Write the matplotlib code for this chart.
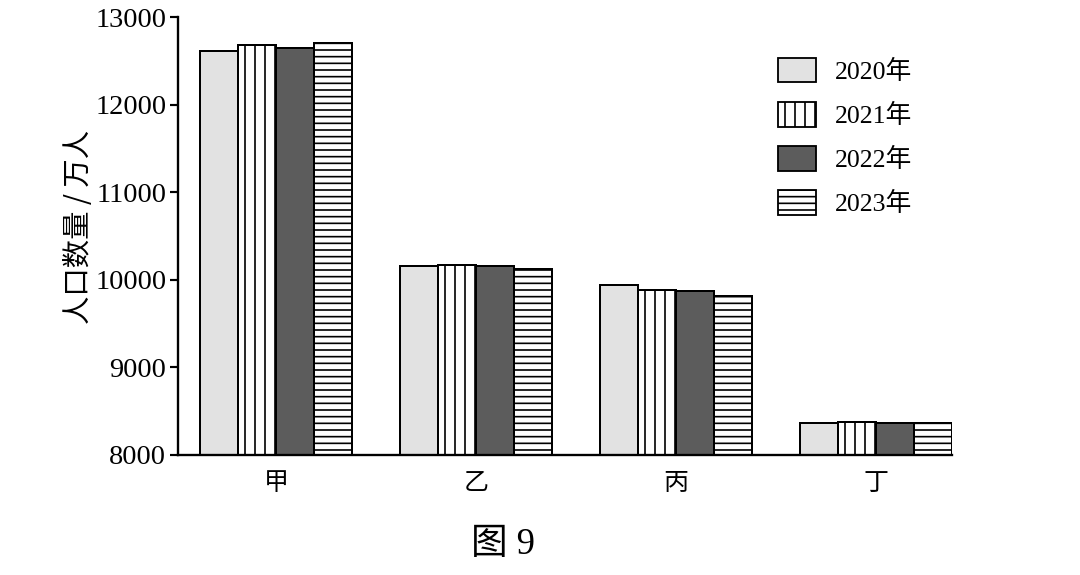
import numpy as np
import matplotlib.pyplot as plt
from matplotlib.patches import Patch

plt.rcParams['font.family'] = ['Liberation Serif', 'Noto Sans CJK SC']
plt.rcParams['hatch.linewidth'] = 1.0

# data
regions = ['甲', '乙', '丙', '丁']
years = ['2020年', '2021年', '2022年', '2023年']
pop_2020 = [12610, 10160, 9940, 8370]
pop_2021 = [12680, 10170, 9880, 8372]
pop_2022 = [12650, 10160, 9870, 8370]
pop_2023 = [12700, 10120, 9810, 8366]
yticks = [8000, 9000, 10000, 11000, 12000, 13000]

series = [pop_2020, pop_2021, pop_2022, pop_2023]
faces = ['#e2e2e2', 'white', '#5c5c5c', 'white']
hatches = [None, '||', None, '---']

fig = plt.figure(figsize=(9, 575 / 120), dpi=120)
ax = fig.add_axes([0.1648, 0.2087, 0.8815 - 0.1648, 0.9704 - 0.2087])

x = np.arange(len(regions))
w = 0.19
for i, vals in enumerate(series):
    ax.bar(x + (i - 1.5) * w, vals, w, color=faces[i], edgecolor='black',
           linewidth=1.2, hatch=hatches[i], label=years[i])

ax.set_ylim(8000, 13000)
ax.set_xlim(-0.49, 3.38)
ax.set_yticks(yticks)
ax.set_xticks(x)
ax.set_xticklabels(regions, family=['Noto Sans CJK SC'], fontsize=15)
ax.tick_params(axis='y', labelsize=17, length=5, width=1.3, direction='out', pad=2)
ax.tick_params(axis='x', length=0, pad=9)
for s in ['top', 'right']:
    ax.spines[s].set_visible(False)
for s in ['left', 'bottom']:
    ax.spines[s].set_linewidth(1.4)

ax.set_ylabel('人口数量 / 万人', family=['Noto Sans CJK SC'], fontsize=17, labelpad=0)
ax.yaxis.set_label_coords(-0.108, 0.52)

handles = [Patch(facecolor=faces[i], edgecolor='black', linewidth=1.1,
                 hatch=hatches[i]) for i in range(4)]
fig.legend(handles, years, loc='upper left', bbox_to_anchor=(778 / 1080, 1 - 58 / 575),
           frameon=False, fontsize=15.5, handlelength=1.47, handleheight=1.08,
           handletextpad=0.74, labelspacing=0.7, borderpad=0, borderaxespad=0)

fig.text(503 / 1080, 1 - 545 / 575, '图 9', ha='center', va='center', fontsize=22)

fig.savefig('out.png', dpi=120)
